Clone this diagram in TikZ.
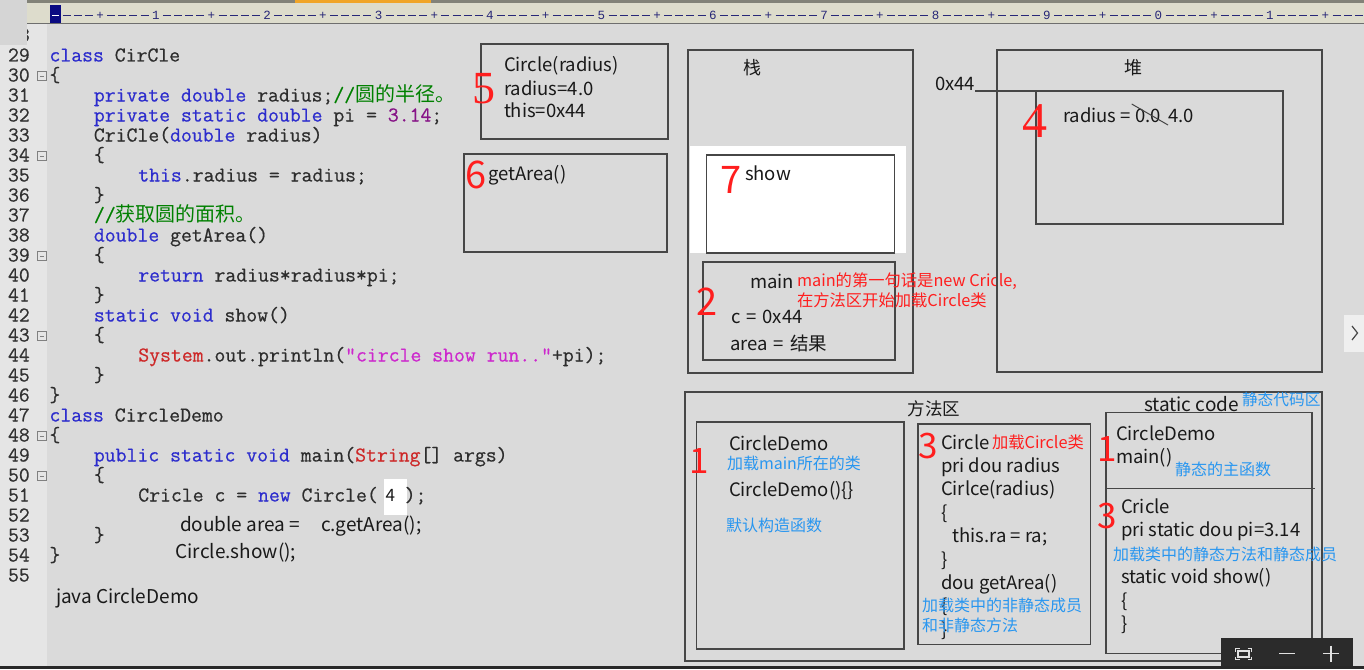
\documentclass[tikz,border=0pt]{standalone}
\usepackage{fontspec}
\setmainfont{Noto Sans CJK SC}
\newfontfamily\cjk{Noto Sans CJK SC}
\newfontfamily\monof[FakeBold=0.6]{Latin Modern Mono}
\newfontfamily\rulf{Liberation Mono}
\newfontfamily\serifr{Liberation Serif}
\definecolor{kwc}{RGB}{45,45,205}
\definecolor{cmc}{RGB}{0,128,0}
\definecolor{nmc}{RGB}{135,20,135}
\definecolor{stc}{RGB}{205,40,205}
\definecolor{rcc}{RGB}{205,40,40}
\definecolor{txtc}{RGB}{45,45,45}
\definecolor{lnc}{RGB}{50,50,50}
\definecolor{inkc}{RGB}{25,25,25}
\definecolor{redc}{RGB}{255,30,30}
\definecolor{bluec}{RGB}{40,150,240}
\definecolor{boxc}{RGB}{70,70,70}
\definecolor{bgc}{RGB}{218,218,218}
\definecolor{gutc}{RGB}{229,229,229}
\definecolor{cornc}{RGB}{213,213,213}
\definecolor{rulbg}{RGB}{221,220,204}
\definecolor{rulc}{RGB}{40,40,120}
\definecolor{navyc}{RGB}{10,10,130}
\definecolor{tabc}{RGB}{240,165,40}
\definecolor{barc}{RGB}{43,43,43}
\definecolor{topc}{RGB}{130,130,120}
\definecolor{rulline}{RGB}{110,110,110}
\definecolor{tabbg}{RGB}{239,239,239}
\definecolor{chevc}{RGB}{70,70,70}
\definecolor{iconc}{RGB}{225,225,225}
\definecolor{botc}{RGB}{40,40,40}
\newcommand\kw[1]{\textcolor{kwc}{#1}}
\newcommand\cmt[1]{\textcolor{cmc}{#1}}
\newcommand\nmb[1]{\textcolor{nmc}{#1}}
\newcommand\strg[1]{\textcolor{stc}{#1}}
\newcommand\rcl[1]{\textcolor{rcc}{#1}}
\newcommand\cjkc{\cjk\fontsize{20}{20}\selectfont}
\newcommand\gp{\hspace{6pt}}
\begin{document}
\begin{tikzpicture}[x=1pt,y=-1pt,
  every node/.style={inner sep=0pt,outer sep=0pt},
  code/.style={anchor=base west,font=\monof\fontsize{21.14}{20}\selectfont,text=txtc},
  lnum/.style={anchor=base west,font=\monof\fontsize{21.14}{20}\selectfont,text=lnc},
  hw/.style={anchor=base west,font=\fontsize{18.5}{22}\selectfont,text=inkc},
  hwb/.style={anchor=base west,font=\fontsize{19}{22}\selectfont,text=inkc},
  rnote/.style={anchor=base west,font=\fontsize{16.3}{20}\selectfont,text=redc},
  bnote/.style={anchor=base west,font=\fontsize{16}{19}\selectfont,text=bluec},
  rdig/.style={anchor=base west,font=\fontsize{38}{38}\selectfont,text=redc},
  rdigs/.style={anchor=base west,font=\serifr\fontsize{46}{46}\selectfont,text=redc},
  box/.style={draw=boxc,line width=1.4pt,anchor=north west},
  ttl/.style={anchor=center,font=\fontsize{18}{20}\selectfont,text=inkc},
  rul/.style={anchor=base,font=\rulf\fontsize{12.5}{12}\selectfont,text=rulc},
  fold/.style={draw=gray,line width=0.8pt,fill=gutc,minimum width=8.5pt,minimum height=8.5pt,anchor=center}]
\useasboundingbox (0,0) rectangle (1364,669);
% backgrounds
\fill[bgc] (0,0) rectangle (1364,669);
\fill[gutc] (0,24) rectangle (47,666);
\fill[topc] (27,0) rectangle (1364,3);
\fill[tabc] (295,0) rectangle (431,3);
\fill[rulbg] (27,3) rectangle (1364,23);
\draw[rulline,line width=1.5pt] (27,23.5) -- (1364,23.5);
\fill[navyc] (50,5) rectangle (61,23);
\draw[white,line width=1pt] (52,15.3) -- (59,15.3);
\foreach \k in {2,...,118}{
  \pgfmathsetmacro\xx{55.5+(\k-1)*11.14}
  \pgfmathtruncatemacro\mten{mod(\k,10)}
  \pgfmathtruncatemacro\mfive{mod(\k,5)}
  \pgfmathtruncatemacro\dig{mod(int(\k/10),10)}
  \ifnum\mten=0
    \node[rul] (ru\k) at (\xx,20) {\dig};
  \else\ifnum\mfive=0
    \node[rul] (ru\k) at (\xx,20) {+};
  \else
    \draw[rulc,line width=1pt] (\xx-4,15.3) -- (\xx+4,15.3);
  \fi\fi
}
% line numbers
\node[lnum] (n28) at (8,41.5) {28};
\fill[cornc] (0,0) rectangle (27,45);
\foreach \n [evaluate=\n as \yy using 61.5+(\n-29)*20] in {29,...,55}{
  \node[lnum] (n\n) at (8,\yy) {\n};
}
\foreach \n [evaluate=\n as \yy using 56+(\n-29)*20] in {30,34,39,43,48,50}{
  \node[fold] (f\n) at (42,\yy) {};
  \draw[gray,line width=0.8pt] ([xshift=2pt]f\n.west) -- ([xshift=-2pt]f\n.east);
}
% code
\node[code] (c29) at (49.5,61.5) {\kw{class} CirCle};
\node[code] (c30) at (49.5,81.5) {\{};
\node[code] (c31) at (93.9,101.5) {\kw{private double} radius;\cmt{//{\cjkc 圆的半径。}}};
\node[code] (c32) at (93.9,121.5) {\kw{private static double} pi = \nmb{3.14};};
\node[code] (c33) at (93.9,141.5) {CriCle(\kw{double} radius)};
\node[code] (c34) at (93.9,161.5) {\{};
\node[code] (c35) at (138.3,181.5) {\kw{this}.radius = radius;};
\node[code] (c36) at (93.9,201.5) {\}};
\node[code] (c37) at (93.9,221.5) {\cmt{//{\cjkc 获取圆的面积。}}};
\node[code] (c38) at (93.9,241.5) {\kw{double} getArea()};
\node[code] (c39) at (93.9,261.5) {\{};
\node[code] (c40) at (138.3,281.5) {\kw{return} radius*radius*pi;};
\node[code] (c41) at (93.9,301.5) {\}};
\node[code] (c42) at (93.9,321.5) {\kw{static void} show()};
\node[code] (c43) at (93.9,341.5) {\{};
\node[code] (c44) at (138.3,361.5) {\rcl{System}.out.println(\strg{"circle show run.."}+pi);};
\node[code] (c45) at (93.9,381.5) {\}};
\node[code] (c46) at (49.5,401.5) {\}};
\node[code] (c47) at (49.5,421.5) {\kw{class} CircleDemo};
\node[code] (c48) at (49.5,441.5) {\{};
\node[code] (c49) at (93.9,461.5) {\kw{public static void} main(\rcl{String}[] args)};
\node[code] (c50) at (93.9,481.5) {\{};
\node[code] (c51) at (138.3,501.5) {Cricle c = \kw{new} Circle(};
\node[fill=white,anchor=north west,minimum width=23pt,minimum height=36pt] (four) at (384,479) {};
\node[anchor=base west,font=\fontsize{17}{17}\selectfont,text=inkc] (fourt) at (385.5,501) {4};
\node[code] (c51b) at (404.7,501.5) {);};
\node[code] (c53) at (93.9,541.5) {\}};
\node[code] (c54) at (49.5,561.5) {\}};
\node[hwb] (h52a) at (180,531.5) {double area =};
\node[hwb] (h52b) at (321,531.5) {c.getArea();};
\node[hwb] (h54) at (175.5,558.3) {Circle.show();};
\node[hwb] (jcd) at (56,603.3) {java CircleDemo};
% box 5 and 6
\node[box,minimum width=187pt,minimum height=95pt] (b5) at (481,44) {};
\node[hw] (b5a) at (504,71.7) {Circle(radius)};
\node[hw] (b5b) at (504,95) {radius=4.0};
\node[hw] (b5c) at (504,117.3) {this=0x44};
\node[rdigs] (d5) at (472,103) {5};
\node[box,minimum width=203pt,minimum height=98pt] (b6) at (464,154) {};
\node[rdig] (d6) at (465,188) {6};
\node[hw] (b6a) at (488,180) {getArea()};
% stack
\node[box,minimum width=225pt,minimum height=323pt] (stack) at (688,50) {};
\node[ttl] (stackt) at (752,68) {栈};
\fill[white] (690,146) rectangle (906,253);
\node[box,fill=white,minimum width=188pt,minimum height=98pt] (showb) at (706.5,155) {};
\node[rdig] (d7) at (720,193) {7};
\node[hw] (showt) at (745,180) {show};
\node[box,minimum width=192pt,minimum height=98pt] (mainb) at (703,262) {};
\node[hw] (maint) at (750,288) {main};
\node[rdig] (d2) at (696,315) {2};
\node[hw] (cvar) at (731,323) {c\gp{}=\gp{}0x44};
\node[hw] (avar) at (730,350.5) {area\gp{}=\gp{}结果};
\node[rnote] (rn1) at (797,286.5) {main的第一句话是new Cricle,};
\node[rnote] (rn2) at (797,306.5) {在方法区开始加载Circle类};
% heap
\node[box,minimum width=325pt,minimum height=322pt] (heap) at (997,50) {};
\node[ttl] (heapt) at (1133,68) {堆};
\node[box,minimum width=247pt,minimum height=133pt] (heapin) at (1036,91) {};
\node[hw] (ox44) at (935,90.7) {0x44};
\draw[boxc,line width=1.3pt] (ox44.east |- heapin.north west) -- (heapin.north west);
\node[rdigs,font=\serifr\fontsize{50}{50}\selectfont] (d4) at (1022,137) {4};
\node[hw] (rad) at (1063,122.7) {radius = 0.0\, 4.0};
\draw[boxc,line width=1pt] (1131.7,104) -- (1168,125);
% method area
\node[box,minimum width=637pt,minimum height=269pt] (marea) at (685,392) {};
\node[ttl,font=\fontsize{17.5}{20}\selectfont] (mareat) at (934,409) {方法区};
\node[box,minimum width=207.5pt,minimum height=227pt] (b1) at (696.5,422) {};
\node[hw] (b1a) at (729,450) {CircleDemo};
\node[bnote] (b1n) at (727,469) {加载main所在的类};
\node[hw] (b1b) at (729,496.7) {CircleDemo()\{\}};
\node[bnote] (b1m) at (726,531) {默认构造函数};
\node[rdig,font=\fontsize{35}{35}\selectfont] (d1a) at (689,473.5) {1};
\node[box,minimum width=172.5pt,minimum height=220.5pt] (b3) at (918,424) {};
\node[rdig,font=\fontsize{35}{35}\selectfont] (d3a) at (918,458.5) {3};
\node[hw] (b3a) at (941,449) {Circle};
\node[rnote] (b3r) at (992,448) {加载Circle类};
\node[hw] (b3b) at (941,472.4) {pri dou radius};
\node[hw] (b3c) at (941,495.8) {Cirlce(radius)};
\node[hw] (b3d) at (941,519.2) {\{};
\node[hw] (b3e) at (952.5,542.6) {this.ra = ra;};
\node[hw] (b3f) at (941,566) {\}};
\node[hw] (b3g) at (941,589.4) {dou getArea()};
\node[hw] (b3h) at (941,612.8) {\{};
\node[hw] (b3i) at (941,636.2) {\}};
\node[bnote] (b3n1) at (922,611) {加载类中的非静态成员};
\node[bnote] (b3n2) at (922,631) {和非静态方法};
% static code
\node[box,minimum width=206pt,minimum height=241pt] (stat) at (1106,412.5) {};
\draw[boxc,line width=1.4pt] (stat.west |- 0,488.5) -- ++(209,0);
\node[hwb] (statt) at (1144,411.7) {static code};
\node[bnote,font=\fontsize{15.7}{18}\selectfont] (statn) at (1242,405.5) {静态代码区};
\node[rdig,font=\fontsize{35}{35}\selectfont] (d1b) at (1097,461) {1};
\node[hw] (s1a) at (1116,440) {CircleDemo};
\node[hw] (s1b) at (1116,463.3) {main()};
\node[bnote] (s1n) at (1175,475) {静态的主函数};
\node[rdig,font=\fontsize{35}{35}\selectfont] (d3b) at (1097,528.3) {3};
\node[hw] (s3a) at (1121,513.3) {Cricle};
\node[hw] (s3b) at (1121,536.7) {pri static dou pi=3.14};
\node[bnote] (s3n) at (1113,560) {加载类中的静态方法和静态成员};
\node[hw] (s3c) at (1121,583.3) {static void show()};
\node[hw] (s3d) at (1121,607) {\{};
\node[hw] (s3e) at (1121,630.5) {\}};
% right tab and toolbar
\fill[tabbg] (1344,315) rectangle (1364,352);
\draw[chevc,line width=1.2pt] (1352,326) -- (1357.5,333) -- (1352,340);
\fill[barc] (1221,638) rectangle (1353,666);
\draw[iconc,line width=1.2pt] (1238,651) rectangle (1249,657);
\draw[iconc,line width=1.2pt] (1235.5,651.5) |- (1239.5,648.5) (1247.5,648.5) -| (1251.5,651.5)
  (1251.5,656.5) |- (1247.5,659.5) (1239.5,659.5) -| (1235.5,656.5);
\draw[iconc,line width=1.3pt] (1279,653.5) -- (1295,653.5);
\draw[iconc,line width=1.3pt] (1323,653.5) -- (1339,653.5) (1331,645.5) -- (1331,661.5);
\fill[botc] (0,666) rectangle (1364,669);
\end{tikzpicture}
\end{document}
